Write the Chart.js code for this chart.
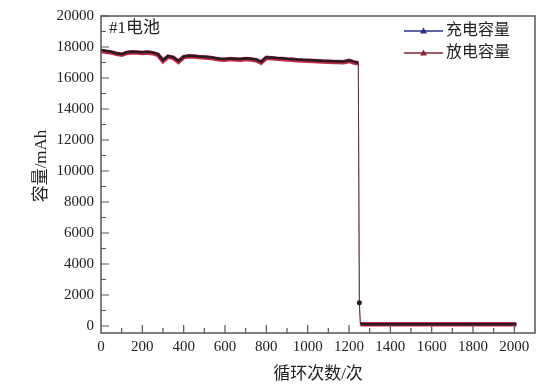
<!DOCTYPE html>
<html>
<head>
<meta charset="utf-8">
<script src="https://cdn.jsdelivr.net/npm/chart.js@4"></script>
<style>
  html, body { margin: 0; padding: 0; background: #fff; }
  #wrap { width: 552px; height: 390px; }
</style>
</head>
<body>
<div id="wrap"><canvas id="chart1" width="552" height="390"></canvas></div>
<script>
// cycle numbers
const cycles = [0, 25, 50, 75, 100, 125, 150, 175, 200, 225, 250, 275, 300, 325, 350, 375,
  400, 425, 450, 475, 500, 525, 550, 575, 600, 625, 650, 675, 700, 725, 750, 775,
  800, 825, 850, 875, 900, 925, 950, 975, 1000, 1025, 1050, 1075, 1100, 1125, 1150, 1175,
  1200, 1225, 1245, 1250, 1255, 1275, 1300, 1325, 1350, 1375, 1400, 1425, 1450, 1475,
  1500, 1525, 1550, 1575, 1600, 1625, 1650, 1675, 1700, 1725, 1750, 1775, 1800, 1825,
  1850, 1875, 1900, 1925, 1950, 1975, 2000, 2010];

// discharge capacity, mAh
const discharge = [17750, 17700, 17650, 17560, 17500, 17620, 17660, 17640, 17620, 17650, 17600, 17500, 17100, 17380, 17300, 17050,
  17350, 17400, 17380, 17350, 17330, 17300, 17250, 17200, 17180, 17220, 17200, 17180, 17230, 17200, 17150, 17000,
  17300, 17280, 17250, 17230, 17200, 17180, 17150, 17130, 17120, 17100, 17080, 17060, 17050, 17040, 17030, 17020,
  17100, 17000, 16950, 1490, 120, 110, 110, 110, 110, 110, 110, 110, 110, 110,
  110, 110, 110, 110, 110, 110, 110, 110, 110, 110, 110, 110, 110, 110,
  110, 110, 110, 110, 110, 110, 110, 100];

// charge capacity, mAh
const charge = [17800, 17740, 17690, 17600, 17540, 17660, 17700, 17680, 17660, 17690, 17640, 17540, 17150, 17420, 17340, 17100,
  17390, 17440, 17420, 17390, 17370, 17340, 17290, 17240, 17220, 17260, 17240, 17220, 17270, 17240, 17190, 17050,
  17340, 17320, 17290, 17270, 17240, 17220, 17190, 17170, 17160, 17140, 17120, 17100, 17090, 17080, 17070, 17060,
  17140, 17040, 16990, 1500, 130, 120, 120, 120, 120, 120, 120, 120, 120, 120,
  120, 120, 120, 120, 120, 120, 120, 120, 120, 120, 120, 120, 120, 120,
  120, 120, 120, 120, 120, 120, 120, 110];

const xTicks = [0, 200, 400, 600, 800, 1000, 1200, 1400, 1600, 1800, 2000];
const yTicks = [0, 2000, 4000, 6000, 8000, 10000, 12000, 14000, 16000, 18000, 20000];

const seriesNames = ["充电容量", "放电容量"];
const axisTitles = { x: "循环次数/次", y: "容量/mAh" };
const note = "#1电池";

const blue = "#2b3285";
const frame = "#555555";
const serif = "'Liberation Serif', 'Times New Roman', 'DejaVu Serif', serif";
// latin glyphs in serif, chinese falls back to the CJK font
const mixed = "'Liberation Serif', 'Noto Sans CJK SC', serif";

Chart.defaults.font.family = serif;

function pts(vals) {
  return cycles.map((c, i) => ({ x: c, y: vals[i] }));
}

// the big drop is drawn as a thin line
function isDrop(c) {
  return Math.abs(c.p0.parsed.y - c.p1.parsed.y) > 1000;
}

// frame, inward ticks, titles, legend
const decorate = {
  id: "decorate",
  afterDraw(chart) {
    const ctx = chart.ctx;
    const a = chart.chartArea;
    const xs = chart.scales.x, ys = chart.scales.y;
    ctx.save();
    ctx.strokeStyle = frame;
    ctx.lineWidth = 1.5;
    ctx.strokeRect(a.left, a.top, a.right - a.left, a.bottom - a.top);

    ctx.lineWidth = 1.2;
    ctx.beginPath();
    for (let v = 0; v <= 20000; v += 1000) {
      const py = ys.getPixelForValue(v);
      const len = v % 2000 === 0 ? 8 : 5;
      ctx.moveTo(a.left, py); ctx.lineTo(a.left + len, py);
    }
    for (let v = 100; v <= 2000; v += 100) {
      const px = xs.getPixelForValue(v);
      const len = v % 200 === 0 ? 8 : 5;
      ctx.moveTo(px, a.bottom); ctx.lineTo(px, a.bottom - len);
    }
    ctx.stroke();

    ctx.fillStyle = "#222";
    ctx.font = "17px " + mixed;
    ctx.textBaseline = "middle";
    ctx.textAlign = "left";
    ctx.fillText(note, 109, 29);

    ctx.textAlign = "center";
    ctx.fillText(axisTitles.x, 318, 375);
    ctx.save();
    ctx.translate(42, 166);
    ctx.rotate(-Math.PI / 2);
    ctx.fillText(axisTitles.y, 0, 0);
    ctx.restore();

    // legend
    const cols = [blue, "#8a2433"];
    ctx.font = "16px " + mixed;
    ctx.textAlign = "left";
    seriesNames.forEach((name, i) => {
      const y = 31 + i * 22;
      ctx.strokeStyle = cols[i];
      ctx.lineWidth = 1.3;
      ctx.beginPath();
      ctx.moveTo(404, y); ctx.lineTo(443, y);
      ctx.stroke();
      ctx.fillStyle = cols[i];
      ctx.beginPath();
      ctx.moveTo(423.5, y - 3.5); ctx.lineTo(427, y + 2.5); ctx.lineTo(420, y + 2.5);
      ctx.closePath(); ctx.fill();
      ctx.fillStyle = "#222";
      ctx.fillText(name, 446, y);
    });
    ctx.restore();
  }
};

const tickFont = { family: serif, size: 15 };

new Chart(document.getElementById("chart1").getContext("2d"), {
  type: "line",
  data: {
    datasets: [
      {
        label: seriesNames[0],
        data: pts(charge),
        borderColor: "#2a1a24",
        backgroundColor: "#2a1a24",
        borderWidth: 2.5,
        pointRadius: (c) => c.raw && c.raw.y > 1000 && c.raw.y < 5000 ? 2.5 : 0,
        pointBorderWidth: 0,
        segment: { borderWidth: (c) => isDrop(c) ? 0.8 : 2.5 },
        order: 1
      },
      {
        label: seriesNames[1],
        data: pts(discharge),
        borderColor: "#c42a44",
        backgroundColor: "#c42a44",
        borderWidth: 4.5,
        pointRadius: 0,
        segment: {
          borderWidth: (c) => isDrop(c) ? 1 : 4.5,
          borderColor: (c) => isDrop(c) ? "#c98a94" : "#c42a44"
        },
        order: 2
      }
    ]
  },
  options: {
    responsive: false,
    animation: false,
    layout: { padding: { top: 12, right: 17, left: 0, bottom: 0 } },
    plugins: { legend: { display: false }, tooltip: { enabled: false } },
    scales: {
      x: {
        type: "linear",
        min: 0,
        max: 2100,
        afterBuildTicks: (s) => { s.ticks = xTicks.map(v => ({ value: v })); },
        afterFit: (s) => { s.height = 57; },
        grid: { display: false, drawTicks: false },
        border: { display: false },
        ticks: { color: "#222", font: tickFont, padding: 5, maxRotation: 0, autoSkip: false, callback: (v) => String(v) }
      },
      y: {
        min: -450,
        max: 20000,
        afterBuildTicks: (s) => { s.ticks = yTicks.map(v => ({ value: v })); },
        afterFit: (s) => { s.width = 101; },
        grid: { display: false, drawTicks: false },
        border: { display: false },
        ticks: { color: "#222", font: tickFont, padding: 7, autoSkip: false, callback: (v) => String(v) }
      }
    }
  },
  plugins: [decorate]
});
</script>
</body>
</html>
